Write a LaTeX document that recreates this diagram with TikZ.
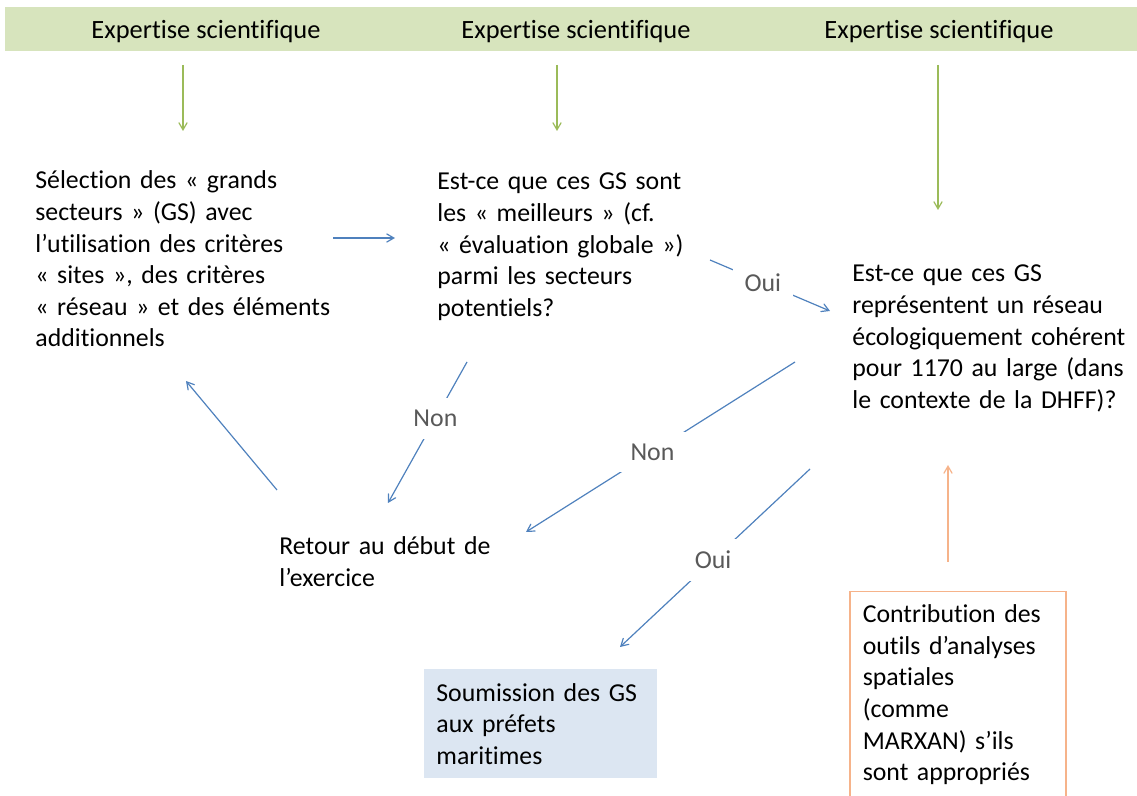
\documentclass[tikz,border=0pt]{standalone}
\usepackage{fontspec}
\setmainfont{Carlito}[Ligatures=NoCommon]
\usetikzlibrary{arrows}
\definecolor{bandgreen}{HTML}{D7E4BD}
\definecolor{arrowgreen}{HTML}{9BBB59}
\definecolor{arrowblue}{HTML}{4F81BD}
\definecolor{paleorange}{HTML}{F6B38A}
\definecolor{boxblue}{HTML}{DCE6F2}
\definecolor{labelgray}{HTML}{595959}
\tikzstyle{txt} = [anchor=base west, inner sep=0pt, align=left, font=\fontsize{12.9}{15.8}\selectfont]
\tikzstyle{header} = [anchor=base, inner sep=0pt, font=\fontsize{13.2}{15}\selectfont]
\tikzstyle{arrow} = [->, >=angle 60, draw=arrowblue, line width=0.6pt]
\tikzstyle{greenarrow} = [arrow, draw=arrowgreen]
\tikzstyle{orangearrow} = [arrow, draw=paleorange]
\tikzstyle{answer} = [fill=white, text=labelgray, inner sep=6pt, font=\fontsize{12.9}{15}\selectfont]

\begin{document}
\begin{tikzpicture}[x=0.5pt,y=-0.5pt]
                \useasboundingbox (0,0) rectangle (1137,796);
                \node (band) [anchor=north west, fill=bandgreen, inner sep=0pt, minimum width=570pt, minimum height=22pt] at (5,7) {};
                \node (expert1) [header] at (206,39) {Expertise scientifique};
                \node (expert2) [header] at (576,39) {Expertise scientifique};
                \node (expert3) [header] at (939,39) {Expertise scientifique};

                \node (selection) [txt, text width=150pt] at (35,189) {Sélection des « grands\\ secteurs » (GS) avec\\ l’utilisation des critères\\ « sites », des critères\\ « réseau » et des éléments\\ additionnels};
                \node (best) [txt, text width=128pt] at (437,190) {Est-ce que ces GS sont\\ les « meilleurs » (cf.\\ « évaluation globale »)\\ parmi les secteurs\\ potentiels?};
                \node (coherent) [txt, text width=142pt] at (852,282) {Est-ce que ces GS\\ représentent un réseau\\ écologiquement cohérent\\ pour 1170 au large (dans\\ le contexte de la DHFF)?};
                \node (retour) [txt, text width=120pt] at (279,555) {Retour au début de\\ l’exercice};
                \node (soumission) [anchor=north west, fill=boxblue, align=left, text width=104.5pt, inner xsep=6pt, inner ysep=0pt, minimum height=54.5pt, font=\fontsize{12.9}{15.8}\selectfont] at (424,669) {Soumission des GS\\ aux préfets\\ maritimes};
                \node (outils) [anchor=north west, draw=paleorange, line width=0.75pt, align=left, text width=95pt, inner xsep=6.5pt, inner ysep=6.5pt, font=\fontsize{12.9}{15.8}\selectfont] at (849,591) {Contribution des\\ outils d’analyses\\ spatiales\\ (comme\\ MARXAN) s’ils\\ sont appropriés};

                % expertise vers chaque etape
                \draw [greenarrow] ([shift={(178,13)}]band.south west) -- ([shift={(148,-58)}]selection.base west);
                \draw [greenarrow] ([shift={(552,13)}]band.south west) -- ([shift={(120,-59)}]best.base west);
                \draw [greenarrow] ([shift={(933,13)}]band.south west) -- ([shift={(86,-72)}]coherent.base west);

                \draw [arrow] ([shift={(298,49)}]selection.base west) -- ([shift={(-42,48)}]best.base west);
                \draw [arrow] ([shift={(273,70)}]best.base west) -- node[answer, pos=0.44] {Oui} ([shift={(-22,29)}]coherent.base west);
                \draw [arrow] ([shift={(30,172)}]best.base west) -- node[answer, pos=0.4] {Non} ([shift={(109,-52)}]retour.base west);
                \draw [arrow] ([shift={(-57,80)}]coherent.base west) -- node[answer, pos=0.53] {Non} ([shift={(247,-23)}]retour.base west);
                \draw [arrow] ([shift={(-42,187)}]coherent.base west) -- node[answer, pos=0.51] {Oui} ([shift={(196,-22)}]soumission.north west);
                \draw [arrow] ([shift={(-2,-65)}]retour.base west) -- ([shift={(151,192)}]selection.base west);
                \draw [orangearrow] ([shift={(99,-29)}]outils.north west) -- ([shift={(96,183)}]coherent.base west);
            \end{tikzpicture}
\end{document}
